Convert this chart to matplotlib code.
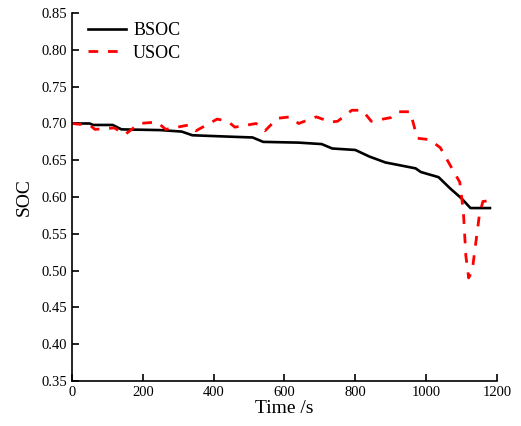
import matplotlib
matplotlib.use("Agg")
import matplotlib.pyplot as plt

# BSOC curve (black, solid)
t_bsoc = [0, 50, 60, 115, 140, 250, 310, 340, 450, 510, 540, 640, 705, 735,
          800, 840, 885, 970, 985, 1035, 1067, 1100, 1125, 1180]
bsoc = [0.700, 0.700, 0.698, 0.698, 0.692, 0.691, 0.689, 0.684, 0.682, 0.681,
        0.675, 0.674, 0.672, 0.666, 0.664, 0.655, 0.647, 0.639, 0.634, 0.627,
        0.612, 0.598, 0.585, 0.585]

# USOC curve (red, dashed)
t_usoc = [0, 20, 50, 65, 120, 150, 190, 240, 265, 330, 350, 410, 440, 460,
          520, 545, 580, 615, 640, 690, 730, 750, 790, 820, 845, 900, 920,
          955, 975, 1010, 1040, 1075, 1095, 1105, 1112, 1120, 1130, 1150,
          1160, 1180]
usoc = [0.700, 0.699, 0.698, 0.692, 0.694, 0.685, 0.700, 0.702, 0.692, 0.698,
        0.690, 0.706, 0.703, 0.695, 0.700, 0.690, 0.707, 0.709, 0.700, 0.709,
        0.702, 0.703, 0.718, 0.718, 0.703, 0.708, 0.716, 0.716, 0.680, 0.678,
        0.667, 0.637, 0.620, 0.580, 0.520, 0.490, 0.500, 0.575, 0.594, 0.595]

plt.rcParams['font.family'] = ['Liberation Serif', 'DejaVu Serif']

fig = plt.figure(figsize=(5.21, 4.26), dpi=100)
ax = fig.add_axes([0.138, 0.106, 0.816, 0.863])

ax.plot(t_bsoc, bsoc, color='black', lw=1.9, label='BSOC')
ax.plot(t_usoc, usoc, color='red', lw=2.0, ls=(0, (3.5, 3.5)), label='USOC')

ax.set_xlim(0, 1200)
ax.set_ylim(0.35, 0.85)
ax.set_xticks(range(0, 1201, 200))
ax.set_yticks([0.35 + 0.05 * i for i in range(11)])
ax.set_yticklabels([f"{0.35 + 0.05 * i:.2f}" for i in range(11)])

ax.spines['top'].set_visible(False)
ax.spines['right'].set_visible(False)
ax.spines['left'].set_linewidth(1.2)
ax.spines['bottom'].set_linewidth(1.2)
ax.tick_params(direction='in', length=5, width=1.2, labelsize=10.5)

ax.set_xlabel('Time /s', fontsize=14, labelpad=1)
ax.set_ylabel('SOC', fontsize=14, labelpad=6)

ax.legend(loc='upper left', frameon=False, fontsize=13, handlelength=2.1,
          handletextpad=0.4, borderaxespad=0.3, labelspacing=0.3,
          bbox_to_anchor=(0.008, 1.01))

fig.savefig('out.png', dpi=100)
